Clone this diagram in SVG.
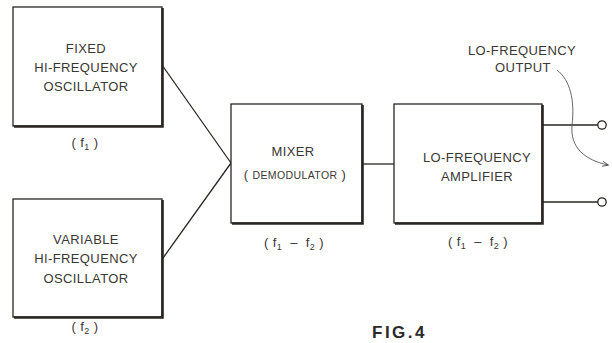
<svg xmlns="http://www.w3.org/2000/svg" width="612" height="343" viewBox="0 0 612 343">
<style>
.box{fill:#fff;stroke:#2a2622;stroke-width:1.3}
.sh{fill:none;stroke:#2a2622;stroke-width:2.6}
.t{font-family:"Liberation Sans",Arial,sans-serif;font-size:13px;fill:#3a3833;text-anchor:middle;letter-spacing:0.4px}
.s{font-size:10.5px}
.w{fill:none;stroke:#2a2622;stroke-width:1.3}
.fig{font-family:"Liberation Sans",Arial,sans-serif;font-size:17px;font-weight:bold;fill:#2a2a28;letter-spacing:2.5px}
</style>
<defs>
<marker id="ah" viewBox="0 0 10 10" refX="9" refY="5" markerWidth="7" markerHeight="7" orient="auto"><path d="M0,1 L10,5 L0,9" fill="none" stroke="#3a3833" stroke-width="1.2"/></marker>
</defs>
<g id="connectors">
<line class="w" x1="162" y1="65" x2="231" y2="163"/>
<line class="w" x1="163" y1="258" x2="231" y2="163"/>
<line class="w" x1="362" y1="164" x2="394" y2="164"/>
<line class="w" x1="542" y1="125" x2="598" y2="125"/>
<line class="w" x1="542" y1="202" x2="598" y2="202"/>
<circle class="w" cx="602" cy="125" r="4.2"/>
<circle class="w" cx="602" cy="202" r="4.2"/>
<path d="M557,70 C570,80 575,100 572,125 C570,148 585,160 608,165" fill="none" stroke="#555" stroke-width="0.9" marker-end="url(#ah)"/>
</g>
<g id="fixed-osc">
<rect class="box" x="13" y="7" width="149" height="119"/>
<path class="sh" d="M14,126.5 H162.5 V8"/>
<text class="t" x="86" y="53">FIXED</text>
<text class="t" x="86" y="72">HI-FREQUENCY</text>
<text class="t" x="86" y="91">OSCILLATOR</text>
<text class="t" x="85" y="147">( f<tspan font-size="9" dy="3">1</tspan><tspan dy="-3"> )</tspan></text>
</g>
<g id="variable-osc">
<rect class="box" x="13" y="199" width="149" height="118"/>
<path class="sh" d="M14,317.5 H162.5 V200"/>
<text class="t" x="86" y="244">VARIABLE</text>
<text class="t" x="86" y="263">HI-FREQUENCY</text>
<text class="t" x="86" y="283">OSCILLATOR</text>
<text class="t" x="85" y="331">( f<tspan font-size="9" dy="3">2</tspan><tspan dy="-3"> )</tspan></text>
</g>
<g id="mixer">
<rect class="box" x="231" y="104" width="131" height="119"/>
<path class="sh" d="M232,223.5 H362.5 V105"/>
<text class="t" x="293" y="156">MIXER</text>
<text class="t" x="295" y="179">( <tspan class="s">DEMODULATOR</tspan> )</text>
<text class="t" x="294" y="247" xml:space="preserve">( f<tspan font-size="9" dy="3">1</tspan><tspan dy="-3">  –  f</tspan><tspan font-size="9" dy="3">2</tspan><tspan dy="-3"> )</tspan></text>
</g>
<g id="amplifier">
<rect class="box" x="394" y="104" width="148" height="119"/>
<path class="sh" d="M395,223.5 H542.5 V105"/>
<text class="t" x="477" y="162">LO-FREQUENCY</text>
<text class="t" x="477" y="181">AMPLIFIER</text>
<text class="t" x="478" y="246" xml:space="preserve">( f<tspan font-size="9" dy="3">1</tspan><tspan dy="-3">  –  f</tspan><tspan font-size="9" dy="3">2</tspan><tspan dy="-3"> )</tspan></text>
</g>
<g id="output-label">
<text class="t" x="522" y="55">LO-FREQUENCY</text>
<text class="t" x="523" y="72">OUTPUT</text>
</g>
<text class="fig" x="372" y="338">FIG.4</text>
</svg>
